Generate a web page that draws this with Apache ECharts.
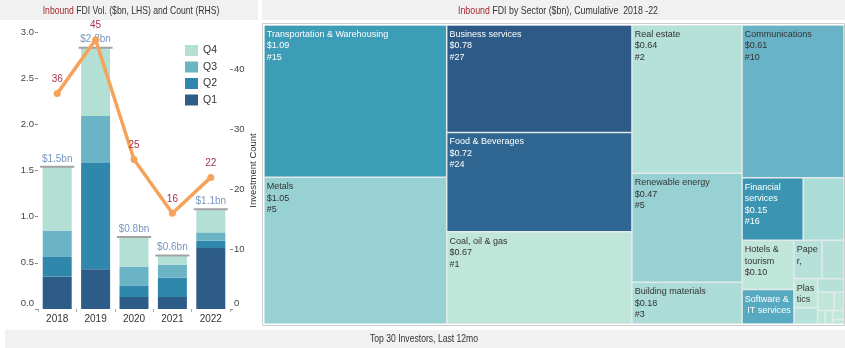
<!DOCTYPE html>
<html><head><meta charset="utf-8">
<script src="https://cdn.jsdelivr.net/npm/echarts@6/dist/echarts.min.js"></script>
<style>html,body{margin:0;padding:0;background:#fff}#c{width:845px;height:348px}</style>
</head><body><div id="c"></div>
<script>
// ---------- Left chart data ----------
const years = ['2018', '2019', '2020', '2021', '2022'];
const q1 = [0.35, 0.43, 0.13, 0.13, 0.66];
const q2 = [0.22, 1.15, 0.12, 0.21, 0.08];
const q3 = [0.28, 0.51, 0.21, 0.14, 0.09];
const q4 = [0.69, 0.74, 0.32, 0.10, 0.25];
const investmentCounts = [36, 45, 25, 16, 22];
const countTicks = [0, 10, 20, 30, 40];

// ---------- Treemap data ----------
const sectorNames = ['Transportation & Warehousing', 'Metals', 'Business services', 'Food & Beverages',
  'Coal, oil & gas', 'Real estate', 'Renewable energy', 'Building materials', 'Communications',
  'Financial services', 'Other sector 1', 'Hotels & tourism', 'Software & IT services',
  'Paper, printing & packaging', 'Other sector 2', 'Plastics', 'Other sector 3', 'Other sector 4',
  'Other sector 5', 'Other sector 6', 'Other sector 7', 'Other sector 8', 'Other sector 9', 'Other sector 10'];
const sectorValues = [1.09, 1.05, 0.78, 0.72, 0.67, 0.64, 0.47, 0.18, 0.61, 0.15, 0.10, 0.10, 0.07,
  0.042, 0.033, 0.027, 0.015, 0.014, 0.012, 0.007, 0.004, 0.004, 0.004, 0.002];
const sectorCounts = [15, 5, 27, 24, 1, 2, 5, 3, 10, 16, 3, 1, 12, 2, 2, 1, 2, 2, 1, 1, 1, 1, 1, 1];
// hierarchy (groups of sectors)
const groupA = ['Transportation & Warehousing', 'Metals'];
const groupB = ['Business services', 'Food & Beverages', 'Coal, oil & gas'];
const groupC = ['Real estate', 'Renewable energy', 'Building materials'];
const groupD = ['Communications', 'Financial services', 'Other sector 1', 'Hotels & tourism',
  'Software & IT services', 'Paper, printing & packaging', 'Other sector 2', 'Plastics',
  'Other sector 3', 'Other sector 4', 'Other sector 5', 'Other sector 6', 'Other sector 7',
  'Other sector 8', 'Other sector 9', 'Other sector 10'];

// ---------- helpers ----------
const FONT = "'Liberation Sans', Arial, sans-serif";
const colorStops = [[1, [192, 230, 218]], [5, [152, 209, 211]], [10, [104, 180, 198]],
  [15, [61, 156, 182]], [20, [50, 121, 163]], [27, [45, 90, 134]]];
function countColor(c) {
  for (let i = 0; i < colorStops.length - 1; i++) {
    const [c0, a] = colorStops[i], [c1, b] = colorStops[i + 1];
    if (c <= c1) {
      const t = Math.max(0, (c - c0) / (c1 - c0));
      const m = a.map((v, k) => Math.round(v + (b[k] - v) * t));
      return 'rgb(' + m.join(',') + ')';
    }
  }
  return 'rgb(' + colorStops[colorStops.length - 1][1].join(',') + ')';
}
function leaf(name) {
  const i = sectorNames.indexOf(name);
  const c = sectorCounts[i];
  return {
    name: name, value: sectorValues[i], count: c,
    itemStyle: { color: countColor(c), borderWidth: 0.75, borderColor: '#e2eaec' },
    label: { show: name.indexOf('Other sector') !== 0, color: c >= 12 ? '#ffffff' : '#333333' }
  };
}
function group(name, children) { return { name: name, children: children }; }
const treeData = [
  group('g-left', [
    group('g-left-a', [group('colA', groupA.map(leaf)), group('colB', groupB.map(leaf))]),
    group('colC', groupC.map(leaf))
  ]),
  group('colD', groupD.map(leaf))
];

const totals = years.map((y, i) => +(q1[i] + q2[i] + q3[i] + q4[i]).toFixed(3));
const qColors = { Q1: '#2d5c88', Q2: '#2f88ab', Q3: '#6ab4c6', Q4: '#b3dfd5' };
const TF = '10.5px ' + FONT;

const chart = echarts.init(document.getElementById('c'), null, { renderer: 'canvas' });
const option = {
  animation: false,
  textStyle: { fontFamily: FONT },
  graphic: [
    { type: 'rect', z: -10, shape: { x: 0, y: 0, width: 258, height: 20 }, style: { fill: '#f1f1f1' } },
    { type: 'rect', z: -10, shape: { x: 262, y: 0, width: 583, height: 20 }, style: { fill: '#f1f1f1' } },
    { type: 'rect', z: -10, shape: { x: 5, y: 330, width: 840, height: 18 }, style: { fill: '#f1f1f1' } },
    { type: 'rect', z: -10, shape: { x: 262.5, y: 23.5, width: 582, height: 302 }, style: { fill: 'none', stroke: '#cccccc', lineWidth: 1 } },
    { type: 'text', x: 131, y: 11, scaleX: 0.82, style: { text: '{r|Inbound} FDI Vol. ($bn, LHS) and Count (RHS)', align: 'center', verticalAlign: 'middle', fill: '#333', font: TF, rich: { r: { fill: '#a3292e', font: TF } } } },
    { type: 'text', x: 558, y: 11, scaleX: 0.84, style: { text: '{r|Inbound} FDI by Sector ($bn), Cumulative  2018 -22', align: 'center', verticalAlign: 'middle', fill: '#333', font: TF, rich: { r: { fill: '#a3292e', font: TF } } } },
    { type: 'text', x: 424, y: 339, scaleX: 0.82, style: { text: 'Top 30 Investors, Last 12mo', align: 'center', verticalAlign: 'middle', fill: '#333', font: TF } }
  ],
  legend: {
    data: ['Q4', 'Q3', 'Q2', 'Q1'], orient: 'vertical', left: 180, top: 40,
    itemWidth: 13, itemHeight: 11, itemGap: 5.5, icon: 'rect',
    textStyle: { fontSize: 10.5, color: '#333', fontFamily: FONT }
  },
  grid: { left: 38, top: 32, width: 192, height: 277, containLabel: false },
  xAxis: {
    type: 'category', data: years,
    axisLine: { show: false },
    axisTick: { show: true, length: 3, lineStyle: { color: '#aaa' } },
    axisLabel: { color: '#333', fontSize: 10, margin: 5, fontFamily: FONT }
  },
  yAxis: [
    {
      type: 'value', min: 0, max: 3, interval: 0.5,
      splitLine: { show: false }, axisLine: { show: false },
      axisTick: { show: true, length: 3, lineStyle: { color: '#888' } },
      axisLabel: {
        margin: 4, color: '#444', fontSize: 9.5, fontFamily: FONT,
        formatter: v => v === 0 ? '{s|0.0}' : v.toFixed(1),
        rich: { s: { fontSize: 9.5, color: '#444', fontFamily: FONT, padding: [0, 0, 12, 0] } }
      }
    },
    {
      type: 'value', position: 'right', min: 0, max: 46.3,
      splitLine: { show: false }, axisLine: { show: false },
      axisTick: { show: true, length: 3, lineStyle: { color: '#888' }, customValues: countTicks },
      axisLabel: {
        margin: 4, color: '#444', fontSize: 9.5, fontFamily: FONT, customValues: countTicks,
        formatter: v => v === 0 ? '{s|0}' : String(v),
        rich: { s: { fontSize: 9.5, color: '#444', fontFamily: FONT, padding: [0, 0, 12, 0] } }
      },
      name: 'Investment Count', nameLocation: 'middle', nameRotate: 90, nameGap: 12,
      nameTextStyle: { fontSize: 9.5, color: '#333', fontFamily: FONT }
    }
  ],
  series: [
    { type: 'bar', name: 'Q1', stack: 'vol', data: q1, barWidth: 29, itemStyle: { color: qColors.Q1 } },
    { type: 'bar', name: 'Q2', stack: 'vol', data: q2, barWidth: 29, itemStyle: { color: qColors.Q2 } },
    { type: 'bar', name: 'Q3', stack: 'vol', data: q3, barWidth: 29, itemStyle: { color: qColors.Q3 } },
    { type: 'bar', name: 'Q4', stack: 'vol', data: q4, barWidth: 29, itemStyle: { color: qColors.Q4 } },
    {
      type: 'scatter', name: 'Total', data: totals, symbol: 'rect', symbolSize: [34, 2], z: 4,
      itemStyle: { color: '#a3a3a3', opacity: 1 },
      label: { show: true, position: 'top', distance: 2, color: '#7596c0', fontSize: 10, fontFamily: FONT,
        formatter: p => '$' + p.value.toFixed(1) + 'bn' }
    },
    {
      type: 'line', name: 'Count', yAxisIndex: 1, data: investmentCounts, z: 5,
      symbol: 'circle', symbolSize: 7,
      lineStyle: { color: '#f5a35a', width: 3.5 }, itemStyle: { color: '#f5a35a' },
      label: { show: true, position: 'top', distance: 6, color: '#a8324e', fontSize: 10, fontFamily: FONT }
    },
    {
      type: 'treemap', left: 264, top: 25, width: 580, height: 299,
      roam: false, nodeClick: false, sort: false, squareRatio: 1,
      breadcrumb: { show: false },
      itemStyle: { borderWidth: 0, gapWidth: 0, borderColor: '#e2eaec' },
      label: {
        show: true, position: 'insideTopLeft', distance: 0, padding: [3, 2, 0, 2],
        fontSize: 9, lineHeight: 11.5, fontFamily: FONT, overflow: 'break',
        formatter: p => p.name + '\n$' + p.value.toFixed(2) + '\n#' + p.data.count
      },
      emphasis: { disabled: true },
      data: treeData
    }
  ]
};
chart.setOption(option);
</script></body></html>
